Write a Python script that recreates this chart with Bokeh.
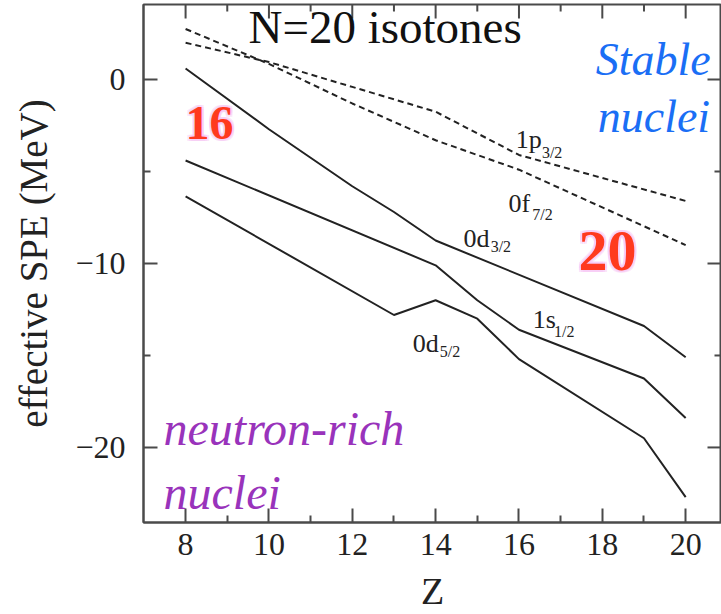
from bokeh.plotting import figure
from bokeh.models import FixedTicker, Label
from bokeh.core.properties import value
from bokeh.embed import file_html
from bokeh.resources import INLINE

# ---- data (effective single-particle energies, MeV, vs proton number Z) ----
z_0d32 = [8, 10, 12, 13, 14, 19, 20]
e_0d32 = [0.6, -2.7, -5.8, -7.2, -8.75, -13.4, -15.1]

z_1s12 = [8, 14, 15, 16, 19, 20]
e_1s12 = [-4.4, -10.1, -12.0, -13.6, -16.25, -18.4]

z_0d52 = [8, 13, 14, 15, 16, 19, 20]
e_0d52 = [-6.35, -12.8, -12.0, -13.0, -15.2, -19.5, -22.7]

z_1p32 = [8, 10, 12, 14, 16, 20]
e_1p32 = [2.0, 0.95, -0.4, -1.75, -4.1, -6.6]

z_0f72 = [8, 10, 12, 14, 16, 20]
e_0f72 = [2.75, 0.85, -1.3, -3.3, -4.9, -9.0]

x_major = [8, 10, 12, 14, 16, 18, 20]
x_minor = [9, 11, 13, 15, 17, 19]
y_major = [-20, -10, 0]
y_minor = [-15, -5]
y_tick_labels = {-20: "\u221220", -10: "\u221210", 0: "0"}

X_START, X_END = 6.99, 20.86
Y_START, Y_END = -24.08, 4.08

WIDTH, HEIGHT = 721, 614
BORDER_L, BORDER_T, BORDER_B = 143, 4, 92

SERIF = "Liberation Serif"
AX = "#4a4a4a"
LINE = "#222222"

p = figure(width=WIDTH, height=HEIGHT, x_range=(X_START, X_END), y_range=(Y_START, Y_END),
           output_backend="svg", toolbar_location=None,
           min_border_left=BORDER_L, min_border_right=0, min_border_top=BORDER_T,
           min_border_bottom=BORDER_B)
p.grid.visible = False
p.outline_line_color = AX
p.outline_line_width = 2
p.background_fill_color = "white"
p.border_fill_color = "white"

def style_axis(ax, ticks, minor):
    ax.ticker = FixedTicker(ticks=ticks, minor_ticks=minor)
    ax.axis_line_color = AX
    ax.axis_line_width = 2
    ax.major_tick_line_color = AX
    ax.major_tick_line_width = 2
    ax.minor_tick_line_color = AX
    ax.minor_tick_line_width = 2
    ax.major_tick_in = 14
    ax.major_tick_out = 0
    ax.minor_tick_in = 7
    ax.minor_tick_out = 0
    ax.major_label_text_font = SERIF
    ax.major_label_text_font_size = "32px"
    ax.major_label_text_color = "#222222"

xa = p.xaxis[0]
style_axis(xa, x_major, x_minor)
xa.major_label_standoff = 11
xa.axis_label = "Z"
xa.axis_label_text_font = SERIF
xa.axis_label_text_font_size = "38px"
xa.axis_label_text_font_style = "normal"
xa.axis_label_text_color = "#222222"
xa.axis_label_standoff = 12

ya = p.yaxis[0]
style_axis(ya, y_major, y_minor)
ya.major_label_standoff = 18
ya.major_label_overrides = y_tick_labels
ya.axis_label = "effective SPE (MeV)"
ya.axis_label_text_font = SERIF
ya.axis_label_text_font_size = "39px"
ya.axis_label_text_font_style = "normal"
ya.axis_label_text_color = "#222222"
ya.axis_label_standoff = 17

# mirrored tick marks on the top and right frame edges, at the axis tick values
px_per_y = (HEIGHT - BORDER_T - BORDER_B) / (Y_END - Y_START)
px_per_x = (WIDTH - BORDER_L) / (X_END - X_START)
for ticks, length in [(x_major, 14), (x_minor, 7)]:
    p.segment(x0=ticks, y0=[Y_END] * len(ticks), x1=ticks,
              y1=[Y_END - length / px_per_y] * len(ticks), line_color=AX, line_width=2)
for ticks, length in [(y_major, 14), (y_minor, 7)]:
    p.segment(x0=[X_END] * len(ticks), y0=ticks, x1=[X_END - length / px_per_x] * len(ticks),
              y1=ticks, line_color=AX, line_width=2)

# ---- curves ----
p.line(z_1p32, e_1p32, line_color=LINE, line_width=2, line_dash="6 4")
p.line(z_0f72, e_0f72, line_color=LINE, line_width=2, line_dash="6 4")
p.line(z_0d32, e_0d32, line_color=LINE, line_width=2)
p.line(z_1s12, e_1s12, line_color=LINE, line_width=2)
p.line(z_0d52, e_0d52, line_color=LINE, line_width=2)

# ---- orbital labels (base + subscript), positions = text centres ----
lab_x = [15.92, 15.75, 14.67, 16.33, 13.45]
lab_y = [-3.25, -6.74, -8.64, -13.04, -14.35]
lab_t = ["1p", "0f", "0d", "1s", "0d"]
sub_x = [16.55, 16.32, 15.32, 16.84, 14.10]
sub_y = [-3.94, -7.36, -9.10, -13.67, -14.81]
sub_t = ["3/2", "7/2", "3/2", "1/2", "5/2"]
p.text(lab_x, lab_y, text=lab_t, text_font=value(SERIF), text_font_size="26px",
       text_color=LINE, text_baseline="middle", text_align="left")
p.text(sub_x, sub_y, text=sub_t, text_font=value(SERIF), text_font_size="16px",
       text_color=LINE, text_baseline="middle", text_align="left")

# ---- annotations (positions = text centres) ----
def lab(x, y, t, size, color, style="normal", **kw):
    p.add_layout(Label(x=x, y=y, text=t, text_font=SERIF, text_font_size=size,
                       text_color=color, text_font_style=style,
                       text_baseline="middle", text_align="left", **kw))

lab(9.51, 2.88, "N=20 isotones", "47px", "#111111")
lab(17.84, 1.10, "Stable", "46px", "#1a6ef5", "italic")
lab(17.89, -2.00, "nuclei", "46px", "#1a6ef5", "italic")
lab(7.47, -18.95, "neutron-rich", "48px", "#9933bb", "italic")
lab(7.47, -22.45, "nuclei", "48px", "#9933bb", "italic")

for dx, dy in [(-2, 0), (2, 0), (0, -2), (0, 2), (2, 2), (-2, -2), (2, -2), (-2, 2)]:
    lab(8.0, -2.38, "16", "48px", "#f6c6f4", "bold", x_offset=dx, y_offset=dy, text_alpha=0.45)
    lab(17.43, -9.31, "20", "58px", "#f6c6f4", "bold", x_offset=dx, y_offset=dy, text_alpha=0.45)
lab(8.0, -2.38, "16", "48px", "#ff3a1e", "bold")
lab(17.43, -9.31, "20", "58px", "#ff3a1e", "bold")

open("out.html", "w").write(file_html(p, INLINE))
